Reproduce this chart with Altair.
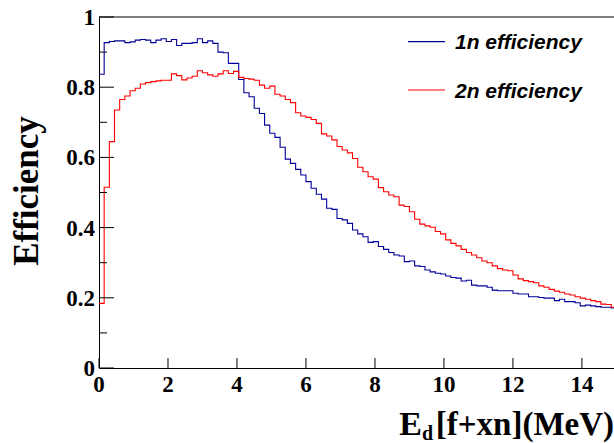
import altair as alt
import pandas as pd

# ---- data ----
BIN_WIDTH = 0.15
N_BINS = 100
series_names = ["1n efficiency", "2n efficiency"]
series_colors = ["#000099", "#ff0000"]

eff_1n = [0.837, 0.927, 0.930, 0.932, 0.932, 0.927, 0.929, 0.934, 0.936, 0.934,
          0.927, 0.934, 0.938, 0.930, 0.936, 0.919, 0.925, 0.925, 0.927, 0.938,
          0.927, 0.932, 0.925, 0.900, 0.898, 0.868, 0.868, 0.822, 0.784, 0.773,
          0.740, 0.725, 0.692, 0.669, 0.657, 0.629, 0.595, 0.583, 0.566, 0.550,
          0.531, 0.512, 0.495, 0.481, 0.455, 0.452, 0.426, 0.422, 0.412, 0.393,
          0.382, 0.374, 0.358, 0.360, 0.346, 0.338, 0.329, 0.322, 0.319, 0.303,
          0.305, 0.291, 0.289, 0.279, 0.274, 0.270, 0.268, 0.262, 0.258, 0.256,
          0.248, 0.250, 0.236, 0.234, 0.234, 0.230, 0.222, 0.220, 0.220, 0.220,
          0.213, 0.211, 0.211, 0.203, 0.203, 0.201, 0.199, 0.199, 0.192, 0.196,
          0.189, 0.189, 0.186, 0.177, 0.179, 0.177, 0.175, 0.173, 0.173, 0.171]

eff_2n = [0.184, 0.515, 0.645, 0.735, 0.765, 0.775, 0.790, 0.797, 0.809, 0.813,
          0.816, 0.818, 0.820, 0.820, 0.838, 0.833, 0.821, 0.826, 0.831, 0.847,
          0.841, 0.835, 0.831, 0.838, 0.847, 0.839, 0.845, 0.828, 0.825, 0.823,
          0.820, 0.806, 0.797, 0.803, 0.780, 0.775, 0.765, 0.756, 0.727, 0.718,
          0.714, 0.708, 0.697, 0.667, 0.661, 0.650, 0.631, 0.621, 0.613, 0.597,
          0.572, 0.559, 0.545, 0.538, 0.514, 0.502, 0.493, 0.488, 0.464, 0.460,
          0.445, 0.424, 0.410, 0.405, 0.401, 0.389, 0.382, 0.365, 0.355, 0.348,
          0.338, 0.329, 0.322, 0.314, 0.305, 0.300, 0.291, 0.283, 0.279, 0.277,
          0.265, 0.254, 0.249, 0.246, 0.243, 0.234, 0.230, 0.224, 0.219, 0.216,
          0.211, 0.208, 0.203, 0.199, 0.196, 0.192, 0.189, 0.182, 0.181, 0.173]

x_tick_values = [0, 2, 4, 6, 8, 10, 12, 14]
x_tick_labels = ["0", "2", "4", "6", "8", "10", "12", "14"]
y_major_ticks = [0, 0.2, 0.4, 0.6, 0.8, 1.0]
y_tick_labels = ["0", "0.2", "0.4", "0.6", "0.8", "1"]
y_minor_ticks = [0.1, 0.3, 0.5, 0.7, 0.9]
x_title_main = "E"
x_title_sub = "d"
x_title_rest = "[f+xn](MeV)"
y_title = "Efficiency"

# ---- build table ----
edges = [round(i * BIN_WIDTH, 4) for i in range(N_BINS + 1)]
rows = []
for name, vals in zip(series_names, [eff_1n, eff_2n]):
    for i in range(N_BINS):
        rows.append({"x": edges[i], "value": vals[i], "series": name})
    rows.append({"x": edges[N_BINS], "value": vals[-1], "series": name})
df = pd.DataFrame(rows)

W, H = 515, 351
SERIF = "Liberation Serif"
SANS = "Liberation Sans"

xscale = alt.Scale(domain=[0, 14.93], nice=False, zero=False)
yscale = alt.Scale(domain=[0, 1], nice=False, zero=False)
xaxis = alt.Axis(values=x_tick_values, title=None, ticks=False, grid=False, labels=False,
                 domainColor="black", domainWidth=1)
yaxis = alt.Axis(values=y_major_ticks, title=None, ticks=False, grid=False, labels=False,
                 domainColor="black", domainWidth=1)

color = alt.Color("series:N", scale=alt.Scale(domain=series_names, range=series_colors), legend=None)

lines = alt.Chart(df).mark_line(interpolate="step-after", strokeWidth=1.1, clip=True).encode(
    x=alt.X("x:Q", scale=xscale, axis=xaxis),
    y=alt.Y("value:Q", scale=yscale, axis=yaxis),
    color=color,
    detail="series:N",
)

ytick_df = pd.DataFrame({"value": y_major_ticks, "label": y_tick_labels})
xtick_df = pd.DataFrame({"x": x_tick_values, "label": x_tick_labels})

ymaj = alt.Chart(ytick_df).mark_rule(color="black", strokeWidth=1).encode(
    y=alt.Y("value:Q", scale=yscale, axis=yaxis), x=alt.value(0), x2=alt.value(15))
ymin = alt.Chart(pd.DataFrame({"value": y_minor_ticks})).mark_rule(color="black", strokeWidth=1).encode(
    y=alt.Y("value:Q", scale=yscale, axis=yaxis), x=alt.value(0), x2=alt.value(8))
xt = alt.Chart(xtick_df).mark_rule(color="black", strokeWidth=1).encode(
    x=alt.X("x:Q", scale=xscale, axis=xaxis), y=alt.value(H), y2=alt.value(H - 10))
top = alt.Chart(pd.DataFrame({"a": [0]})).mark_rule(color="black", strokeWidth=1).encode(
    x=alt.value(0), x2=alt.value(W), y=alt.value(0))

ylab = alt.Chart(ytick_df).mark_text(font=SERIF, fontSize=23, fontWeight="bold", align="right",
                                     baseline="middle", color="black", dy=1).encode(
    y=alt.Y("value:Q", scale=yscale, axis=yaxis), x=alt.value(-4), text="label:N")
xlab = alt.Chart(xtick_df).mark_text(font=SERIF, fontSize=23, fontWeight="bold", align="center",
                                     baseline="top", color="black").encode(
    x=alt.X("x:Q", scale=xscale, axis=xaxis), y=alt.value(H + 6), text="label:N")

# legend
leg_df = pd.DataFrame({"series": series_names, "ly": [24.7, 73.0], "ty": [31.5, 80.5]})
leg_lines = alt.Chart(leg_df).mark_rule(strokeWidth=1.2).encode(
    x=alt.value(309), x2=alt.value(346), y=alt.Y("ly:Q", scale=None), color=color)
leg_text = alt.Chart(leg_df).mark_text(font=SANS, fontSize=21, fontWeight="bold", fontStyle="italic",
                                        align="left", baseline="alphabetic", color="black").encode(
    x=alt.value(356), y=alt.Y("ty:Q", scale=None), text="series:N")

# titles
t_df = pd.DataFrame({"a": [0]})
ytitle = alt.Chart(t_df).mark_text(font=SERIF, fontSize=35, fontWeight="bold", angle=270,
                                   align="center", baseline="alphabetic", color="black").encode(
    x=alt.value(-61), y=alt.value(174), text=alt.value(y_title))
xt_main = alt.Chart(t_df).mark_text(font=SERIF, fontSize=34, fontWeight="bold",
                                    align="right", baseline="alphabetic", color="black").encode(
    x=alt.value(323), y=alt.value(418), text=alt.value(x_title_main))
xt_sub = alt.Chart(t_df).mark_text(font=SERIF, fontSize=20, fontWeight="bold",
                                   align="left", baseline="alphabetic", color="black").encode(
    x=alt.value(323), y=alt.value(423), text=alt.value(x_title_sub))
xt_rest = alt.Chart(t_df).mark_text(font=SERIF, fontSize=33, fontWeight="bold",
                                    align="right", baseline="alphabetic", color="black").encode(
    x=alt.value(515), y=alt.value(418), text=alt.value(x_title_rest))

chart = alt.layer(lines, ymaj, ymin, xt, top, ylab, xlab, leg_lines, leg_text,
                  ytitle, xt_main, xt_sub, xt_rest).properties(
    width=W, height=H,
    autosize=alt.AutoSizeParams(type="none"),
    padding={"left": 99, "top": 17, "right": 0, "bottom": 75},
    background="white",
).configure_view(stroke=None)

chart.save("out.html", embed_options={"renderer": "svg", "actions": False})
